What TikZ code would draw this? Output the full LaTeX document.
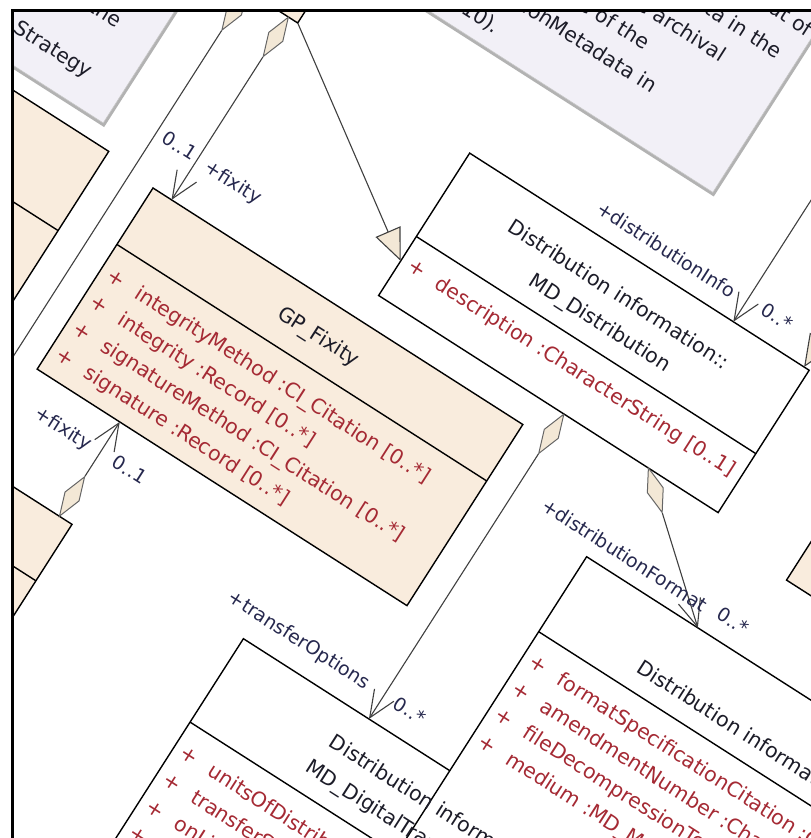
\documentclass[tikz,border=0pt]{standalone}
\usepackage{fontspec}
\setmainfont{DejaVu Sans}
\usetikzlibrary{arrows.meta,shapes.geometric}

\definecolor{clsfill}{RGB}{249,236,221}
\definecolor{notefill}{RGB}{242,240,247}
\definecolor{diafill}{RGB}{243,232,214}
\definecolor{attrred}{RGB}{165,42,52}
\definecolor{namedark}{RGB}{28,28,40}
\definecolor{roledark}{RGB}{38,40,78}
\newcommand{\attrplus}{\makebox[33pt][l]{+}}

\begin{document}
\begin{tikzpicture}[x=1pt,y=1pt,
  cls/.style={draw=black,line width=1.4pt,fill=clsfill},
  clsw/.style={draw=black,line width=1.4pt,fill=white},
  note/.style={fill=notefill,draw=gray!45,line width=0.6pt},
  shade/.style={fill=gray!60},
  cname/.style={text=namedark,font=\fontsize{20.5}{25}\selectfont,inner sep=0pt},
  attr/.style={text=attrred,font=\fontsize{20.5}{25}\selectfont,inner sep=0pt,anchor=west,text height=15pt,text depth=4pt},
  role/.style={text=roledark,font=\fontsize{19}{23}\selectfont,inner sep=0pt},
  ntext/.style={text=namedark,font=\fontsize{20.5}{25}\selectfont,inner sep=0pt},
  assoc/.style={draw=black!75,line width=1.1pt},
  nav/.style={assoc,-{Straight Barb[length=27pt,width=23pt]}},
  gen/.style={assoc,-{Triangle[length=32pt,width=27pt,fill=diafill]}},
  dia/.style={diamond,draw=black!60,fill=diafill,line width=1pt,inner sep=0pt,minimum width=17pt,minimum height=47pt}]

\fill[white] (0,0) rectangle (811,-838);
\useasboundingbox (0,0) rectangle (811,-838);

\begin{scope}
\clip (13,-11) rectangle (811,-838);
\begin{scope}[shift={(153,-188)},rotate=-32.6,transform shape]

% classes and notes
\filldraw[cls] (-600,217) rectangle (33,700);
\fill[shade] (-897,25) rectangle (-74,597);
\filldraw[note] (-900,28) rectangle (-77,600);
\fill[shade] (-297,295) rectangle (477,897);
\filldraw[note] (-300,298) rectangle (474,900);

\filldraw[cls] (-600,7) rectangle (-57,-500);
\draw[line width=1.4pt] (-600,-87) -- (-57,-87);
\filldraw[cls] (-600,-327) rectangle (113,-900);
\draw[line width=1.4pt] (-600,-394) -- (113,-394);
\filldraw[cls] (745,11) rectangle (1200,400);

\filldraw[cls] (0,0) rectangle (439,-215);
\draw[line width=1.4pt] (0,-67) -- (439,-67);
\filldraw[clsw] (248,200) rectangle (651,31);
\draw[line width=1.4pt] (248,101) -- (651,101);
\filldraw[clsw] (319,-331) rectangle (835,-800);
\draw[line width=1.4pt] (319,-430) -- (835,-430);
\filldraw[clsw] (564,-77) rectangle (1150,-700);
\draw[line width=1.4pt] (564,-166) -- (1150,-166);

% note texts
\node[ntext,anchor=east] (stratA) at (-117,122) {the};
\node[ntext,anchor=west] (stratB) at (-203,62) {Strategy};
\node[ntext,anchor=east] (noteA) at (470,485) {is the output of};
\node[ntext,anchor=east] (noteB) at (456,452) {metadata in the};
\node[ntext,anchor=east] (noteC) at (410,419) {stored in the archival};
\node[ntext,anchor=east] (noteD) at (340,386) {information package of the};
\node[ntext,anchor=east] (noteE) at (369,353) {GP\_PreservationMetadata in};
\node[ntext,anchor=east] (noteF) at (205,320) {(ISO 14721:2010).};

% GP_Fixity
\node[cname] (fixName) at (219.5,-37) {GP\_Fixity};
\foreach \a [count=\i] in {{integrityMethod :CI\_Citation [0..*]},{integrity :Record [0..*]},
  {signatureMethod :CI\_Citation [0..*]},{signature :Record [0..*]}}
  \node[attr] (fixAttr\i) at (9,{-97-31.5*(\i-1)}) {\attrplus\a};

% MD_Distribution
\node[cname] (distNameA) at (449.5,162) {Distribution information::};
\node[cname] (distNameB) at (449.5,126) {MD\_Distribution};
\node[attr] (distAttr) at (257,73) {\attrplus description :CharacterString [0..1]};

% MD_DigitalTransferOptions
\node[cname] (dtoNameA) at (577,-368) {Distribution information::};
\node[cname] (dtoNameB) at (577,-404) {MD\_DigitalTransferOptions};
\foreach \a [count=\i] in {{unitsOfDistribution :CharacterString [0..1]},{transferSize :Real [0..1]},
  {onLine :CI\_OnlineResource [0..*]},{offLine :MD\_Medium [0..1]}}
  \node[attr] (dtoAttr\i) at (328,{-460-31.5*(\i-1)}) {\attrplus\a};

% MD_Format
\node[cname] (fmtName) at (796,-140) {Distribution information::};
\foreach \a [count=\i] in {{formatSpecificationCitation :CI\_Citation},{amendmentNumber :CharacterString [0..1]},
  {fileDecompressionTechnique :CharacterString [0..1]},{medium :MD\_Medium [0..*]}}
  \node[attr] (fmtAttr\i) at (573,{-195-31.5*(\i-1)}) {\attrplus\a};

% connectors
\coordinate (fixTop) at (22,0);
\coordinate (fixBottom) at (98,-215);
\coordinate (archEnd) at (-27,-600);
\coordinate (upperCorner) at (33,217);
\coordinate (distLeft) at (248,72);
\coordinate (distTop) at (561,200);
\coordinate (distTopR) at (645,200);
\coordinate (infoFar) at (561,520);
\coordinate (genFar) at (645,520);
\coordinate (dtoTop) at (468,-331);
\coordinate (fmtTop) at (696,-77);

\node[dia] (dArch) at (-27,193.5) {};
\node[dia] (dFixTop) at (22,193.5) {};
\node[dia] (dFixLow) at (98,-303.5) {};
\node[dia] (dTransfer) at (468,7.5) {};
\node[dia,minimum width=47pt,minimum height=17pt,rotate=-40.2] (dFormat) at (586,16) {};

\draw[assoc] (dArch.south) -- (archEnd);
\draw[nav] (dFixTop.south) -- (fixTop);
\draw[nav] (dFixLow.north) -- (fixBottom);
\draw[gen] (upperCorner) -- (distLeft);
\draw[nav] (infoFar) -- (distTop);
\draw[gen] (genFar) -- (distTopR);
\draw[nav] (dTransfer.south) -- (dtoTop);
\draw[nav] (dFormat.east) -- (fmtTop);

% role names and multiplicities
\node[role,anchor=east] (fixTopMult) at (18,50) {0..1};
\node[role,anchor=west] (fixTopRole) at (33,47) {+fixity};
\node[role,anchor=east] (fixLowRole) at (86,-252) {+fixity};
\node[role,anchor=west] (fixLowMult) at (114,-250) {0..1};
\node[role,anchor=east] (infoRole) at (546,225) {+distributionInfo};
\node[role,anchor=west] (infoMult) at (578,228) {0..*};
\node[role,anchor=east] (transferRole) at (449,-303) {+transferOptions};
\node[role,anchor=west] (transferMult) at (481,-302) {0..*};
\node[role] (formatRole) at (595,-55) {+distributionFormat};
\node[role] (formatMult) at (722,-52) {0..*};

\end{scope}
\end{scope}

\draw[line width=3pt] (12.5,-838) -- (12.5,-10) -- (811,-10);

\end{tikzpicture}
\end{document}
